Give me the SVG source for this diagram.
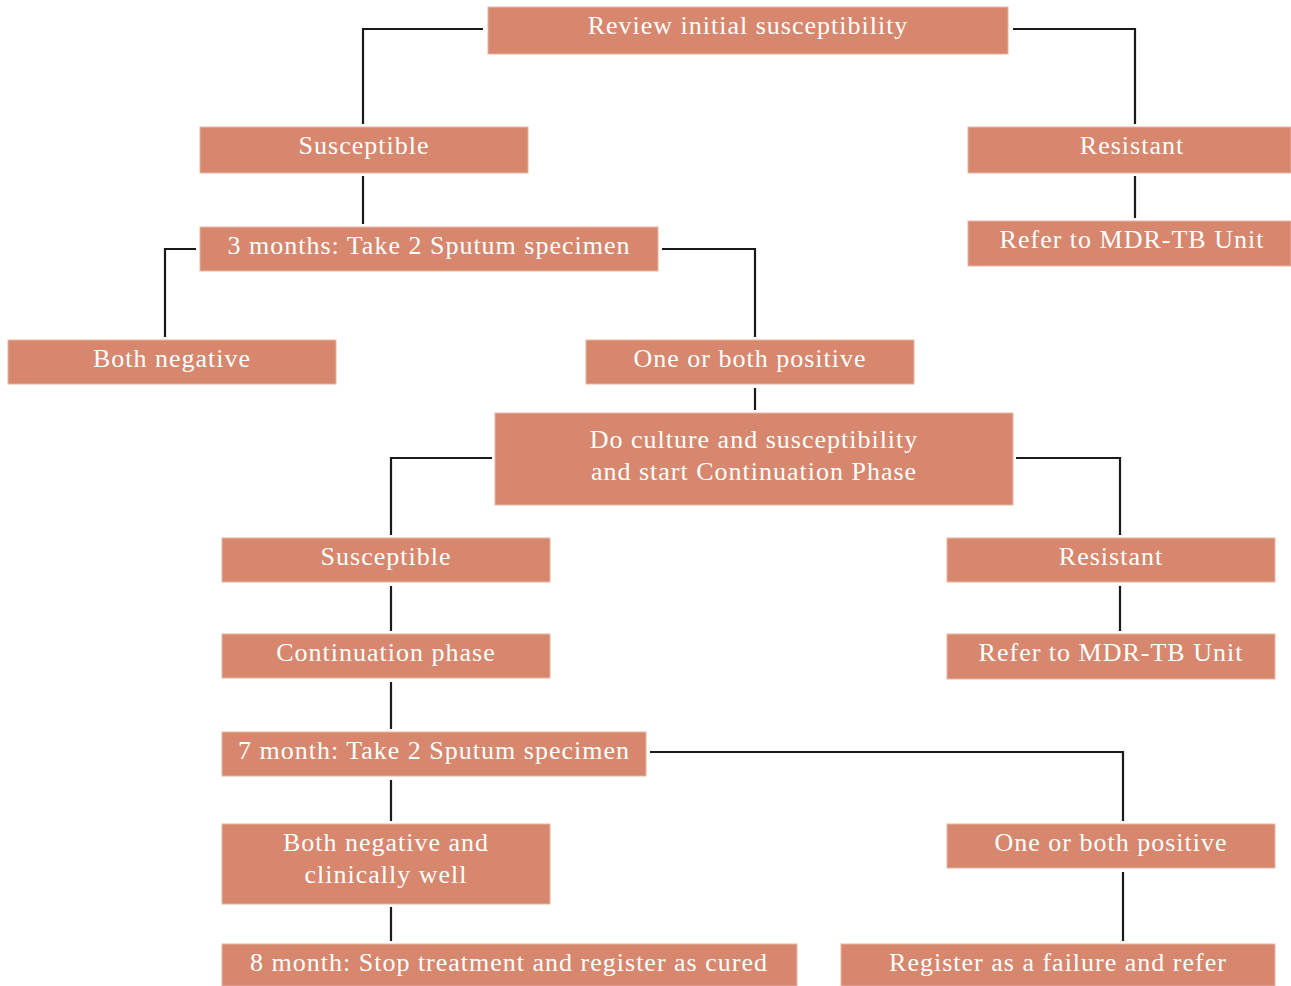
<svg xmlns="http://www.w3.org/2000/svg" width="1291" height="986" viewBox="0 0 1291 986">
<style>
.b{fill:#d6876d;stroke:#e8b5a4;stroke-width:1}
.t{font-family:"Liberation Serif","Times New Roman",serif;font-size:26px;fill:#ffffff;text-anchor:middle;letter-spacing:1px}
.c{fill:none;stroke:#1a1a1a;stroke-width:2.2}
</style>
<rect width="1291" height="986" fill="#ffffff"/>
<g id="connectors">
<path class="c" d="M483 29H363V124"/>
<path class="c" d="M1013 29H1135V124"/>
<path class="c" d="M363 176V224"/>
<path class="c" d="M1135 176V218"/>
<path class="c" d="M196 249H165V337"/>
<path class="c" d="M662 249H755V337"/>
<path class="c" d="M755 388V410"/>
<path class="c" d="M492 458H391V535"/>
<path class="c" d="M1016 458H1120V535"/>
<path class="c" d="M391 586V631"/>
<path class="c" d="M1120 586V631"/>
<path class="c" d="M391 682V729"/>
<path class="c" d="M650 752H1123V821"/>
<path class="c" d="M391 780V821"/>
<path class="c" d="M391 907V941"/>
<path class="c" d="M1123 872V941"/>
</g>
<g id="review"><rect class="b" x="488" y="7" width="520" height="47"/><text class="t" x="748" y="34">Review initial susceptibility</text></g>
<g id="susceptible1"><rect class="b" x="200" y="127" width="328" height="46"/><text class="t" x="364" y="154">Susceptible</text></g>
<g id="resistant1"><rect class="b" x="968" y="127" width="323" height="46"/><text class="t" x="1132" y="154">Resistant</text></g>
<g id="refer1"><rect class="b" x="968" y="221" width="323" height="45"/><text class="t" x="1132" y="248">Refer to MDR-TB Unit</text></g>
<g id="months3"><rect class="b" x="200" y="227" width="458" height="44"/><text class="t" x="429" y="254">3 months: Take 2 Sputum specimen</text></g>
<g id="bothneg1"><rect class="b" x="8" y="340" width="328" height="44"/><text class="t" x="172" y="367">Both negative</text></g>
<g id="onepos1"><rect class="b" x="586" y="340" width="328" height="44"/><text class="t" x="750" y="367">One or both positive</text></g>
<g id="culture"><rect class="b" x="495" y="413" width="518" height="92"/><text class="t" x="754" y="448">Do culture and susceptibility</text><text class="t" x="754" y="480">and start Continuation Phase</text></g>
<g id="susceptible2"><rect class="b" x="222" y="538" width="328" height="44"/><text class="t" x="386" y="565">Susceptible</text></g>
<g id="resistant2"><rect class="b" x="947" y="538" width="328" height="44"/><text class="t" x="1111" y="565">Resistant</text></g>
<g id="continuation"><rect class="b" x="222" y="634" width="328" height="44"/><text class="t" x="386" y="661">Continuation phase</text></g>
<g id="refer2"><rect class="b" x="947" y="634" width="328" height="45"/><text class="t" x="1111" y="661">Refer to MDR-TB Unit</text></g>
<g id="month7"><rect class="b" x="222" y="732" width="424" height="44"/><text class="t" x="434" y="759">7 month: Take 2 Sputum specimen</text></g>
<g id="bothneg2"><rect class="b" x="222" y="824" width="328" height="80"/><text class="t" x="386" y="851">Both negative and</text><text class="t" x="386" y="883">clinically well</text></g>
<g id="onepos2"><rect class="b" x="947" y="824" width="328" height="44"/><text class="t" x="1111" y="851">One or both positive</text></g>
<g id="month8"><rect class="b" x="222" y="944" width="575" height="42"/><text class="t" x="509" y="971">8 month: Stop treatment and register as cured</text></g>
<g id="failure"><rect class="b" x="841" y="944" width="434" height="42"/><text class="t" x="1058" y="971">Register as a failure and refer</text></g>
</svg>
